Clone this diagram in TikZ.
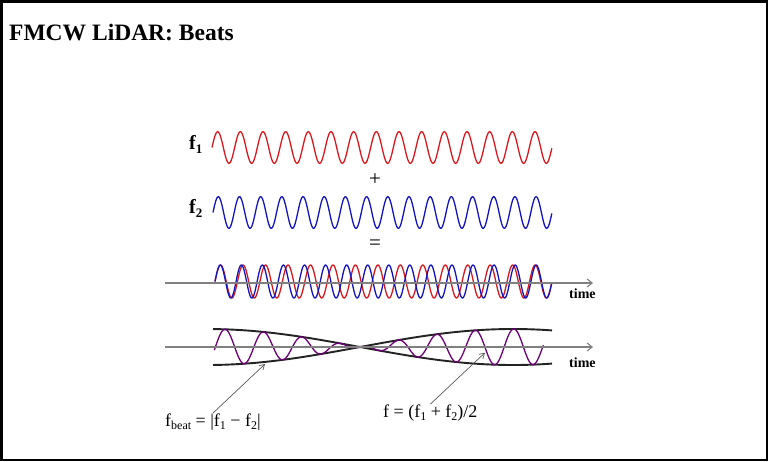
\documentclass[tikz,border=0pt]{standalone}
\usepackage{fontspec}
\setmainfont{Liberation Serif}
\usetikzlibrary{arrows.meta}
\definecolor{wred}{RGB}{215,25,30}
\definecolor{wblue}{RGB}{20,20,190}
\definecolor{wpurple}{RGB}{110,0,120}
\definecolor{axgray}{RGB}{128,128,128}
\definecolor{envblack}{RGB}{35,35,35}
\definecolor{pointer}{RGB}{90,90,90}
\newcommand{\lowsub}[3]{\raisebox{-#1}{\fontsize{#2}{#2}\selectfont #3}}
\begin{document}
\begin{tikzpicture}[x=1pt,y=-1pt,
  titletext/.style={inner sep=0pt,anchor=base west,font=\fontsize{23.5}{27}\selectfont\bfseries},
  flabel/.style={inner sep=0pt,anchor=base west,font=\fontsize{20}{22}\selectfont\bfseries},
  optext/.style={inner sep=0pt,font=\fontsize{21}{22}\selectfont},
  timelabel/.style={inner sep=0pt,anchor=base west,font=\fontsize{14}{16}\selectfont\bfseries},
  formula/.style={inner sep=0pt,anchor=base west,font=\fontsize{18}{20}\selectfont},
  wave/.style={line width=1.3pt,line join=round},
  envelope/.style={line width=1.9pt,envblack},
  axisline/.style={line width=1.3pt,axgray,-{Straight Barb[length=5pt,width=8pt,line width=1.1pt]}},
  pointerline/.style={line width=0.7pt,pointer,-{Straight Barb[length=5pt,width=6pt,line width=0.7pt]}}]
\useasboundingbox (0,0) rectangle (768,461);
\draw[line width=2.5pt] (1.25,1.25) rectangle (766.75,459.75);

% title
\node[titletext] (title) at (9,40) {FMCW LiDAR: Beats};

% f1 and f2
\node[flabel] (f1) at (189,149) {f\lowsub{4pt}{13}{1}};
\draw[wave,wred] plot[domain=0:1,samples=500] ({212+340*\x},{147.5-15.8*sin(5400*\x)});
\node[optext] (plus) at (375,180) {+};
\node[flabel] (f2) at (189,213) {f\lowsub{4pt}{13}{2}};
\draw[wave,wblue] plot[domain=0:1,samples=500] ({213+339*\x},{212.5-15.8*sin(5760*\x)});
\node[optext] (equal) at (375,245) {=};

% overlay
\draw[wave,wred] plot[domain=0:1,samples=500] ({215+337*\x},{281.5-16.5*sin(5400*\x)});
\draw[wave,wblue] plot[domain=0:1,samples=500] ({215+337*\x},{281.5-16.5*sin(5760*\x)});
\coordinate (ax1s) at (165,283);
\coordinate (ax1e) at (593,283);
\draw[axisline] (ax1s) -- (ax1e);
\node[timelabel] (time1) at (569,298) {time};

% beat
\draw[envelope] plot[domain=213:552,samples=200] (\x,{347+18*sin(0.5882*(\x-360))});
\draw[envelope] plot[domain=213:552,samples=200] (\x,{347-18*sin(0.5882*(\x-360))});
\draw[wave,wpurple] plot[domain=214.3:543.3,samples=500] (\x,{347+18*sin(0.5882*(\x-360))*sin(9.3506*(\x-215.4))});
\coordinate (ax2s) at (165,347);
\coordinate (ax2e) at (593,347);
\draw[axisline] (ax2s) -- (ax2e);
\node[timelabel] (time2) at (569,367.5) {time};

% formulas and pointers
\node[formula] (fbeat) at (165,426) {f\lowsub{3pt}{12}{beat} = |f\lowsub{3pt}{12}{1} \textminus{} f\lowsub{3pt}{12}{2}|};
\node[formula] (favg) at (383,417) {f = (f\lowsub{3pt}{12}{1} + f\lowsub{3pt}{12}{2})/2};
\coordinate (tipbeat) at (265,364);
\coordinate (tipavg) at (485,352.7);
\draw[pointerline] (fbeat.north) -- (tipbeat);
\draw[pointerline] (favg.north) -- (tipavg);
\end{tikzpicture}
\end{document}
